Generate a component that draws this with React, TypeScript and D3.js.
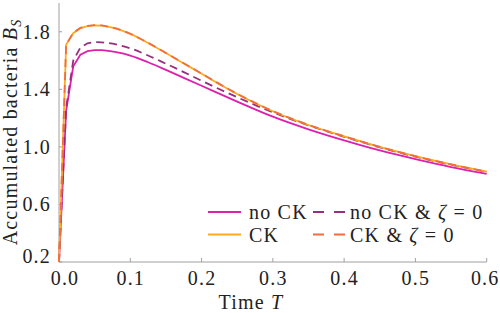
import React from 'react';
import * as d3 from 'd3';

// time grid and the four series
const times = [0, 0.01, 0.02, 0.03, 0.04, 0.05, 0.06, 0.08, 0.1, 0.125, 0.15, 0.175, 0.2, 0.25, 0.3, 0.35, 0.4, 0.45, 0.5, 0.55, 0.6];
const noCK = [0.2, 1.25, 1.56, 1.64, 1.665, 1.673, 1.672, 1.658, 1.635, 1.588, 1.535, 1.48, 1.425, 1.315, 1.21, 1.122, 1.045, 0.975, 0.915, 0.86, 0.813];
const noCKzeta = [0.2, 1.27, 1.6, 1.69, 1.72, 1.728, 1.727, 1.712, 1.685, 1.635, 1.578, 1.52, 1.46, 1.345, 1.24, 1.15, 1.07, 0.997, 0.932, 0.876, 0.826];
const CK = [0.2, 1.71, 1.79, 1.825, 1.84, 1.845, 1.843, 1.822, 1.785, 1.722, 1.652, 1.58, 1.508, 1.368, 1.248, 1.152, 1.073, 1.0, 0.935, 0.878, 0.828];
const CKzeta = [0.2, 1.71, 1.793, 1.827, 1.841, 1.846, 1.844, 1.823, 1.786, 1.723, 1.653, 1.581, 1.509, 1.369, 1.249, 1.153, 1.074, 1.0, 0.935, 0.878, 0.828];

const xTicks = [0, 0.1, 0.2, 0.3, 0.4, 0.5, 0.6];
const yTicks = [0.2, 0.6, 1.0, 1.4, 1.8];

const series = [
  { name: 'noCK', values: noCK, color: '#dc21ab', dash: null },
  { name: 'noCKzeta', values: noCKzeta, color: '#972f7c', dash: '8,5' },
  { name: 'CK', values: CK, color: '#fcab1f', dash: null },
  { name: 'CKzeta', values: CKzeta, color: '#f26d3d', dash: '8,5' },
];

const W = 500;
const H = 313;
const font = '"Liberation Serif", "DejaVu Serif", serif';
const axisColor = '#a0a0a0';
const fs = 20;
const ls = 1.2;

export default function App() {
  const x = d3.scaleLinear().domain([0, 0.6]).range([59, 486.7]);
  const y = d3.scaleLinear().domain([0.2, 2.0]).range([262, 3]);

  // straight segments on the coarse start, smooth decay afterwards
  const split = 6;
  const pathFor = (vals: number[]) => {
    const pts = vals.map((v, i) => [x(times[i]), y(v)] as [number, number]);
    const head = d3.line().curve(d3.curveLinear)(pts.slice(0, split + 1)) || '';
    const tail = d3.line().curve(d3.curveMonotoneX)(pts.slice(split)) || '';
    return head + tail.replace(/^M[^A-Za-z]*/, '');
  };

  const legend = [
    { s: series[0], label: <>no CK</>, lx: 208, ly: 212, tx: 249 },
    { s: series[2], label: <>CK</>, lx: 208, ly: 234.5, tx: 249 },
    { s: series[1], label: <>no CK &amp; <tspan fontStyle="italic">ζ</tspan> = 0</>, lx: 313, ly: 212, tx: 350 },
    { s: series[3], label: <>CK &amp; <tspan fontStyle="italic">ζ</tspan> = 0</>, lx: 313, ly: 234.5, tx: 350 },
  ];

  return (
    <svg
      width={W}
      height={H}
      style={{ position: 'absolute', left: 0, top: 0, background: '#fff' }}
      fontFamily={font}
      letterSpacing={ls}
    >
      {/* axes */}
      <line x1={x(0)} x2={x(0)} y1={y(0.2)} y2={y(2.0)} stroke={axisColor} strokeWidth={1} />
      <line x1={x(0)} x2={x(0.6)} y1={y(0.2)} y2={y(0.2)} stroke={axisColor} strokeWidth={1} />
      {xTicks.map((t) => (
        <g key={'x' + t}>
          <line x1={x(t)} x2={x(t)} y1={y(0.2)} y2={y(0.2) - 4} stroke={axisColor} />
          <text
            x={x(t) + (t === 0 ? 6 : t === 0.6 ? -1.5 : 0.5)}
            y={285}
            fontSize={fs}
            textAnchor="middle"
            fill="#222"
          >
            {t.toFixed(1)}
          </text>
        </g>
      ))}
      {yTicks.map((t) => (
        <g key={'y' + t}>
          <line x1={x(0)} x2={x(0) + 3} y1={y(t)} y2={y(t)} stroke={axisColor} />
          <text
            x={51}
            y={Math.min(y(t), 256) + 7}
            fontSize={fs}
            textAnchor="end"
            fill="#222"
          >
            {t.toFixed(1)}
          </text>
        </g>
      ))}

      {/* axis titles */}
      <text x={251} y={309} fontSize={fs} textAnchor="middle" fill="#222">
        Time <tspan fontStyle="italic">T</tspan>
      </text>
      <text
        transform={`translate(16.5,132) rotate(-90)`}
        fontSize={fs}
        textAnchor="middle"
        fill="#222"
      >
        Accumulated bacteria <tspan fontStyle="italic">B</tspan>
        <tspan fontStyle="italic" fontSize={14} dy={4}>S</tspan>
      </text>

      {/* curves */}
      {series.map((s) => (
        <path
          key={s.name}
          d={pathFor(s.values)}
          fill="none"
          stroke={s.color}
          strokeWidth={1.8}
          strokeDasharray={s.dash || undefined}
        />
      ))}

      {/* legend */}
      {legend.map((l, i) => (
        <g key={i}>
          <line
            x1={l.lx}
            x2={l.lx + 33}
            y1={l.ly}
            y2={l.ly}
            stroke={l.s.color}
            strokeWidth={1.8}
            strokeDasharray={l.s.dash ? '11,10' : undefined}
          />
          <text x={l.tx} y={l.ly + 7} fontSize={fs} fill="#222">
            {l.label}
          </text>
        </g>
      ))}
    </svg>
  );
}
